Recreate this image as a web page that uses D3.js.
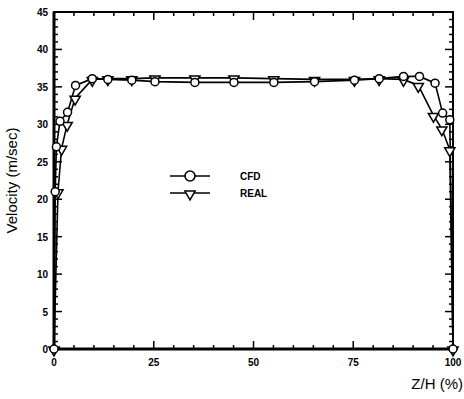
<!DOCTYPE html>
<html>
<head>
<meta charset="utf-8">
<script src="https://cdn.jsdelivr.net/npm/d3@7"></script>
<style>
  body { margin: 0; background: #fff; }
  svg { font-family: "Liberation Sans", Arial, sans-serif; }
</style>
</head>
<body>
<div id="chart"></div>
<script>
// data
var cfdX = [0, 0.3, 0.6, 1.5, 3.4, 5.4, 9.6, 13.5, 19.5, 25.3, 35.3, 45.1, 55.1, 65.3, 75.3, 81.5, 87.6, 91.6, 95.5, 97.4, 99.2, 100];
var cfdY = [0, 21, 27, 30.4, 31.6, 35.2, 36.1, 36.0, 35.9, 35.7, 35.6, 35.6, 35.6, 35.7, 35.9, 36.1, 36.4, 36.4, 35.5, 31.5, 30.6, 0];
var realX = [0, 1.0, 1.9, 3.3, 5.3, 9.6, 13.5, 19.5, 25.3, 35.3, 45.1, 55.1, 65.3, 75.3, 81.5, 87.6, 91.3, 95.1, 97.2, 99.2, 100];
var realY = [0, 21, 26.8, 30, 33.5, 36, 36.1, 36.1, 36.2, 36.2, 36.2, 36.1, 36.0, 36.0, 36.1, 36.0, 35.2, 31.2, 29.4, 26.6, 0];
var xTicks = [0, 25, 50, 75, 100];
var yTicks = [0, 5, 10, 15, 20, 25, 30, 35, 40, 45];
var seriesNames = ["CFD", "REAL"];

var margin = {top: 12, right: 11, bottom: 50, left: 54},
    width = 464 - margin.left - margin.right,
    height = 399 - margin.top - margin.bottom;

var svg = d3.select("#chart")
  .append("svg")
    .attr("width", 464)
    .attr("height", 399)
  .append("g")
    .attr("transform", "translate(" + margin.left + "," + margin.top + ")");

var x = d3.scaleLinear().domain([0, 100]).range([0, width]);
var y = d3.scaleLinear().domain([0, 45]).range([height, 0]);

// frame, heavier on left and bottom
svg.append("rect")
  .attr("width", width).attr("height", height)
  .attr("fill", "none").attr("stroke", "#000").attr("stroke-width", 2);
svg.append("path")
  .attr("d", "M0,0V" + height + "H" + width)
  .attr("fill", "none").attr("stroke", "#000").attr("stroke-width", 3);

// minor ticks
var xMinor = d3.range(0, 101, 5), yMinor = d3.range(0, 46, 1);
function tickLines(cls, data, fn) {
  svg.selectAll("." + cls).data(data).enter().append("line")
    .attr("class", cls).attr("stroke", "#000").attr("stroke-width", 1.5)
    .each(fn);
}
tickLines("xb", xMinor, function(d) {
  var len = xTicks.indexOf(d) >= 0 ? 8 : 4;
  d3.select(this).attr("x1", x(d)).attr("x2", x(d)).attr("y1", height).attr("y2", height - len);
});
tickLines("xt", xMinor, function(d) {
  var len = xTicks.indexOf(d) >= 0 ? 8 : 4;
  d3.select(this).attr("x1", x(d)).attr("x2", x(d)).attr("y1", 0).attr("y2", len);
});
tickLines("yl", yMinor, function(d) {
  var len = yTicks.indexOf(d) >= 0 ? 8 : 4;
  d3.select(this).attr("x1", 0).attr("x2", len).attr("y1", y(d)).attr("y2", y(d));
});
tickLines("yr", yMinor, function(d) {
  var len = yTicks.indexOf(d) >= 0 ? 8 : 4;
  d3.select(this).attr("x1", width).attr("x2", width - len).attr("y1", y(d)).attr("y2", y(d));
});

// tick labels
svg.selectAll(".xl").data(xTicks).enter().append("text")
  .attr("x", function(d) { return x(d); }).attr("y", height + 17)
  .attr("text-anchor", "middle").attr("font-size", 10).attr("font-weight", "bold")
  .text(function(d) { return d; });
svg.selectAll(".ylab").data(yTicks).enter().append("text")
  .attr("x", -6).attr("y", function(d) { return y(d) + 4; })
  .attr("text-anchor", "end").attr("font-size", 10).attr("font-weight", "bold")
  .text(function(d) { return d; });

// axis titles
svg.append("text")
  .attr("transform", "translate(-37," + (height / 2) + ") rotate(-90)")
  .attr("text-anchor", "middle").attr("font-size", 15)
  .text("Velocity (m/sec)");
svg.append("text")
  .attr("x", width + 10).attr("y", height + 40)
  .attr("text-anchor", "end").attr("font-size", 15)
  .text("Z/H (%)");

var line = d3.line()
  .x(function(d) { return x(d[0]); })
  .y(function(d) { return y(d[1]); });

var cfd = d3.zip(cfdX, cfdY), real = d3.zip(realX, realY);
var tri = d3.symbol().type(d3.symbolTriangle).size(45);

svg.append("path").datum(real)
  .attr("fill", "none").attr("stroke", "#000").attr("stroke-width", 1.6).attr("d", line);
svg.append("path").datum(cfd)
  .attr("fill", "none").attr("stroke", "#000").attr("stroke-width", 1.6).attr("d", line);

svg.selectAll(".tri").data(real).enter().append("path")
  .attr("d", tri)
  .attr("transform", function(d) { return "translate(" + x(d[0]) + "," + (y(d[1]) + 1) + ") rotate(180)"; })
  .attr("fill", "#fff").attr("stroke", "#000").attr("stroke-width", 1.5);
svg.selectAll(".circ").data(cfd).enter().append("circle")
  .attr("cx", function(d) { return x(d[0]); })
  .attr("cy", function(d) { return y(d[1]); })
  .attr("r", 4)
  .attr("fill", "#fff").attr("stroke", "#000").attr("stroke-width", 1.5);

// legend
var lg = svg.append("g").attr("transform", "translate(116,164)");
seriesNames.forEach(function(name, i) {
  var row = lg.append("g").attr("transform", "translate(0," + (i * 17) + ")");
  row.append("line").attr("x1", 0).attr("x2", 40).attr("stroke", "#000").attr("stroke-width", 1.6);
  if (i === 0) {
    row.append("circle").attr("cx", 20).attr("r", 5)
      .attr("fill", "#fff").attr("stroke", "#000").attr("stroke-width", 1.6);
  } else {
    row.append("path").attr("d", tri)
      .attr("transform", "translate(20,1) rotate(180)")
      .attr("fill", "#fff").attr("stroke", "#000").attr("stroke-width", 1.5);
  }
  row.append("text").attr("x", 70).attr("y", 4)
    .attr("font-size", 10).attr("font-weight", "bold").text(name);
});
</script>
</body>
</html>
